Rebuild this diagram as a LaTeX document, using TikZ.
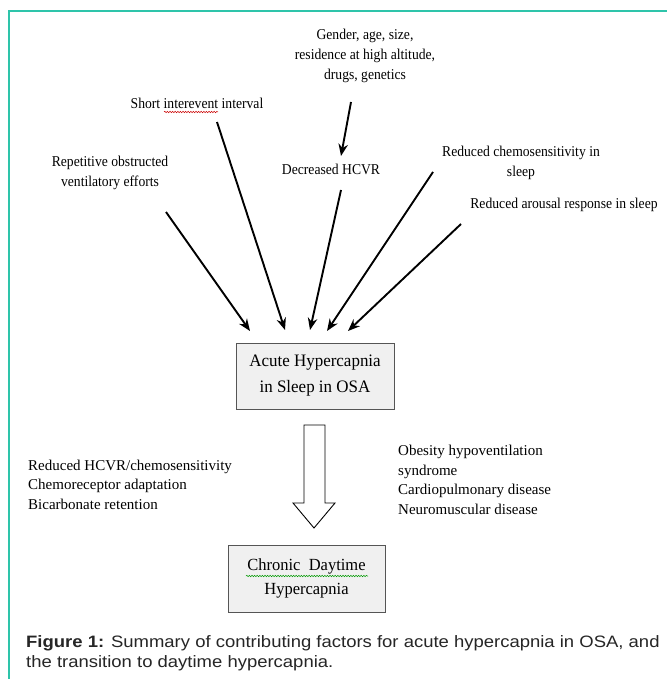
\documentclass[tikz,border=0pt]{standalone}
\usepackage{fontspec}
\setmainfont{Liberation Serif}
\setsansfont{Liberation Sans}
\usetikzlibrary{arrows.meta,decorations.pathmorphing}
\definecolor{teal1}{HTML}{2EC4AA}
\definecolor{boxfill}{HTML}{F0F0F0}
\definecolor{boxline}{HTML}{555555}
\newfontfamily\narrowserif[FakeStretch=0.91]{Liberation Serif}
\newfontfamily\boxserif[FakeStretch=0.97]{Liberation Serif}
\newfontfamily\capsans[FakeStretch=1.12]{Liberation Sans}
\begin{document}
\begin{tikzpicture}[x=1pt,y=-1pt,
  lbl/.style={inner sep=0pt,align=center,font=\narrowserif\fontsize{15}{20}\selectfont},
  lblleft/.style={inner sep=0pt,align=left,anchor=west,font=\fontsize{15}{19.5}\selectfont},
  arr/.style={line width=1.9pt,-{Stealth[length=12pt,width=9.5pt]}},
  statebox/.style={draw=boxline,fill=boxfill,line width=1pt,inner sep=0pt,align=center},
  squig/.style={decorate,decoration={snake,amplitude=0.7pt,segment length=2.6pt},line width=0.5pt}]
\useasboundingbox (0,0) rectangle (667,679);
\fill[white] (0,0) rectangle (667,679);
% frame
\draw[teal1,line width=1.4pt] (9,679) -- (9,11) -- (667,11);

% factor labels
\node[lbl] (gen) at (365,56) {Gender, age, size,\\residence at high altitude,\\drugs, genetics};
\node[lbl] (sii) at (197,103) {Short interevent interval};
\node[lbl] (rep) at (110,173) {Repetitive obstructed\\ventilatory efforts};
\node[lbl] (dec) at (331,169) {Decreased HCVR};
\node[lbl] (chem) at (521,163) {Reduced chemosensitivity in\\sleep};
\node[lbl] (aro) at (564,205) {Reduced arousal response in sleep};

% spellcheck squiggle
\draw[red!80!black,squig] (164,112) -- (218,112);

% boxes
\node[statebox,minimum width=158pt,minimum height=66pt,font=\boxserif\fontsize{17.5}{26}\selectfont] (acute) at (315,376) {Acute Hypercapnia\\in Sleep in OSA};
\node[statebox,minimum width=157pt,minimum height=67pt,font=\boxserif\fontsize{17}{24}\selectfont] (chronic) at (306.5,578.5) {Chronic\ \ Daytime\\Hypercapnia};
\draw[green!60!black,squig] (246,576) -- (368,576);

% arrow end points
\coordinate (a1s) at (166,212); \coordinate (a1e) at (250,331);
\coordinate (a2s) at (217,122); \coordinate (a2e) at (285,330);
\coordinate (a3s) at (341,190); \coordinate (a3e) at (310,330);
\coordinate (a4s) at (433,172); \coordinate (a4e) at (327,331);
\coordinate (a5s) at (461,224); \coordinate (a5e) at (348,331);
\coordinate (g1s) at (351,102); \coordinate (g1e) at (341,156);

\draw[arr] (a1s) -- (a1e);
\draw[arr] (a2s) -- (a2e);
\draw[arr] (a3s) -- (a3e);
\draw[arr] (a4s) -- (a4e);
\draw[arr] (a5s) -- (a5e);
\draw[arr] (g1s) -- (g1e);

% hollow block arrow
\draw[line width=0.9pt,fill=white] (304,425) -- (325,425) -- (325,503) -- (335,503) -- (314,528) -- (293,503) -- (304,503) -- cycle;

% side texts
\node[lblleft] (left) at (28,484.5) {Reduced HCVR/chemosensitivity\\Chemoreceptor adaptation\\Bicarbonate retention};
\node[lblleft] (right) at (398,480) {Obesity hypoventilation\\syndrome\\Cardiopulmonary disease\\Neuromuscular disease};

% caption
\node[anchor=base west,inner sep=0pt,align=left,font=\capsans\fontsize{16.5}{20}\selectfont,text=black!85] (cap) at (26,667) {\textbf{Figure 1:} Summary of contributing factors for acute hypercapnia in OSA, and\\the transition to daytime hypercapnia.};
\end{tikzpicture}
\end{document}
